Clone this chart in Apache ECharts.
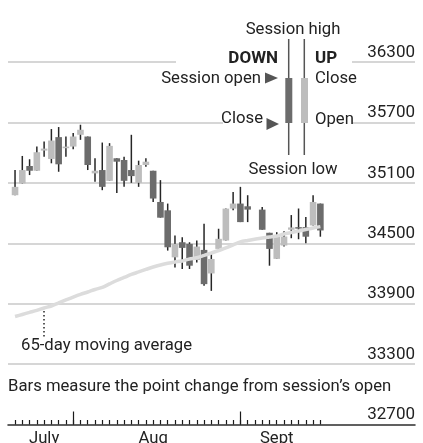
<!DOCTYPE html>
<html>
<head>
<meta charset="utf-8">
<style>
  html, body { margin: 0; padding: 0; background: #fff; }
  #chart { width: 423px; height: 443px; }
</style>
<script src="https://cdn.jsdelivr.net/npm/echarts@6.0.0/dist/echarts.min.js"></script>
</head>
<body>
<div id="chart"></div>
<script>
"use strict";

// trading days (9/4 holiday keeps an empty slot)
const dates = [
  '7/19', '7/20', '7/21', '7/24', '7/25', '7/26', '7/27', '7/28', '7/31',
  '8/1', '8/2', '8/3', '8/4', '8/7', '8/8', '8/9', '8/10', '8/11',
  '8/14', '8/15', '8/16', '8/17', '8/18', '8/21', '8/22', '8/23', '8/24', '8/25',
  '8/28', '8/29', '8/30', '8/31', '9/1', '9/4', '9/5', '9/6', '9/7', '9/8',
  '9/11', '9/12', '9/13', '9/14', '9/15'
];
const opens = [
  34977, 35094, 35267, 35220, 35420, 35337, 35554, 35444, 35460,
  35577, 35560, 35194, 35227, 35120, 35344, 35327, 35227, 35100,
  35277, 35220, 34910, 34827, 34360, 34510, 34494, 34334, 34434, 34200,
  34444, 34527, 34844, 34894, 34867, null, 34834, 34604, 34345, 34477,
  34634, 34660, 34660, 34677, 34894
];
const closes = [
  35060, 35227, 35220, 35404, 35440, 35520, 35284, 35460, 35560,
  35627, 35277, 35220, 35060, 35467, 35310, 35120, 35167, 35277,
  35310, 34944, 34754, 34460, 34494, 34454, 34277, 34467, 34094, 34344,
  34544, 34844, 34894, 34710, 34834, null, 34634, 34444, 34570, 34567,
  34657, 34645, 34565, 34910, 34627
];
const lows = [
  34977, 35094, 35177, 35220, 35360, 35294, 35210, 35360, 35434,
  35527, 35227, 35110, 35027, 35120, 35000, 35060, 35100, 35060,
  35260, 34910, 34754, 34427, 34260, 34244, 34244, 34310, 34077, 34027,
  34444, 34527, 34827, 34710, 34710, null, 34634, 34277, 34345, 34467,
  34550, 34540, 34500, 34677, 34565
];
const highs = [
  35227, 35367, 35334, 35460, 35510, 35634, 35654, 35560, 35594,
  35677, 35560, 35344, 35500, 35494, 35344, 35360, 35577, 35320,
  35344, 35220, 35127, 34894, 34577, 34560, 34510, 34527, 34694, 34394,
  34644, 34844, 35010, 35060, 34977, null, 34860, 34604, 34610, 34620,
  34780, 34845, 34760, 34977, 34894
];
// 65-day moving average
const ma65 = [
  33773, 33793, 33813, 33833, 33857, 33877, 33907, 33937, 33966,
  33993, 34016, 34041, 34061, 34096, 34130, 34160, 34190, 34215,
  34240, 34264, 34284, 34301, 34314, 34324, 34344, 34356, 34379, 34403,
  34428, 34453, 34483, 34513, 34527, null, 34552, 34562, 34572, 34592,
  34607, 34622, 34637, 34652, 34665
];
// axis
const yMin = 32700;
const yMax = 36300;
const yStep = 600;
const monthEnds = ['7/31', '8/31'];
const labelDates = ['7/25', '8/15', '9/7'];
const labelNames = ['July', 'Aug', 'Sept'];

const FONT = 'Roboto';
const TEXT = '#222';
const UP = '#bdbdbd';
const DOWN = '#6c6c6c';
const WICK = '#262626';

const candles = [];
dates.forEach((d, i) => {
  if (opens[i] == null) return;
  candles.push([i, opens[i], closes[i], lows[i], highs[i]]);
});

// one candle: wick + body
function renderCandle(params, api) {
  const i = api.value(0);
  const o = api.value(1), c = api.value(2), l = api.value(3), h = api.value(4);
  const top = api.coord([i, Math.max(o, c)]);
  const bot = api.coord([i, Math.min(o, c)]);
  const hi = api.coord([i, h]);
  const lo = api.coord([i, l]);
  const w = 6.6;
  return {
    type: 'group',
    children: [
      {
        type: 'line',
        shape: { x1: hi[0], y1: hi[1], x2: lo[0], y2: lo[1] },
        style: { stroke: WICK, lineWidth: 1.5 }
      },
      {
        type: 'rect',
        shape: { x: top[0] - w / 2, y: top[1], width: w, height: Math.max(bot[1] - top[1], 1.5) },
        style: { fill: c >= o ? UP : DOWN }
      }
    ]
  };
}

const txt = (text, x, y, align, extra) => ({
  type: 'text', z: 20, x: x, y: y,
  style: Object.assign({
    text: text, fill: TEXT, font: '16.7px ' + FONT,
    textAlign: align, textVerticalAlign: 'middle'
  }, extra || {})
});

const myChart = echarts.init(document.getElementById('chart'));
const option = {
  animation: false,
  grid: [
    // background grid: gridlines and value labels
    { left: 8, right: 8, top: 62, bottom: 18.5, outerBoundsMode: 'none' },
    // candle grid
    { left: 11.4, right: 99, top: 62, bottom: 18.5, outerBoundsMode: 'none' }
  ],
  xAxis: [
    {
      gridIndex: 0, type: 'value', min: 0, max: 1,
      axisLine: { show: true, lineStyle: { color: '#3a3a3a', width: 1.6 } },
      axisTick: { show: false }, axisLabel: { show: false }, splitLine: { show: false }
    },
    {
      gridIndex: 1, type: 'category', data: dates, position: 'bottom',
      axisLine: { show: false },
      axisTick: {
        show: true, inside: true, alignWithLabel: true, interval: 0, length: 4.5,
        lineStyle: { color: '#1a1a1a', width: 1.2 }
      },
      axisLabel: {
        interval: (index, value) => labelDates.indexOf(value) >= 0,
        formatter: (value) => labelNames[labelDates.indexOf(value)],
        color: TEXT, fontFamily: FONT, fontSize: 16.7, margin: 6
      },
      splitLine: { show: false }
    },
    {
      gridIndex: 1, type: 'category', data: dates, position: 'bottom',
      axisLine: { show: false },
      axisTick: {
        show: true, inside: true, alignWithLabel: true, length: 13,
        interval: (index, value) => monthEnds.indexOf(value) >= 0,
        lineStyle: { color: '#1a1a1a', width: 1.2 }
      },
      axisLabel: { show: false },
      splitLine: { show: false }
    }
  ],
  yAxis: [
    {
      gridIndex: 0, type: 'value', position: 'right',
      min: yMin, max: yMax, interval: yStep,
      axisLine: { show: false }, axisTick: { show: false },
      axisLabel: {
        inside: true, margin: 0, verticalAlign: 'bottom', padding: [0, 0, 1, 0],
        formatter: (v) => String(v),
        color: TEXT, fontFamily: FONT, fontSize: 17
      },
      splitLine: { lineStyle: { color: '#c8c8c8', width: 1.5 } }
    },
    { gridIndex: 1, type: 'value', min: yMin, max: yMax, show: false }
  ],
  series: [
    {
      type: 'custom',
      xAxisIndex: 1, yAxisIndex: 1,
      renderItem: renderCandle,
      encode: { x: 0, y: [1, 2, 3, 4] },
      data: candles,
      z: 3
    },
    {
      type: 'line',
      xAxisIndex: 1, yAxisIndex: 1,
      data: ma65,
      connectNulls: true,
      smooth: 0.3,
      symbol: 'none',
      lineStyle: { color: '#dcdcdc', width: 3.5 },
      z: 4
    }
  ],
  graphic: [
    // break gridlines behind the key
    { type: 'rect', z: 10, shape: { x: 176, y: 59, width: 176, height: 6 }, style: { fill: '#fff' } },
    { type: 'rect', z: 10, shape: { x: 223, y: 119, width: 129, height: 7 }, style: { fill: '#fff' } },
    // key candles
    { type: 'line', z: 11, shape: { x1: 288.7, y1: 39, x2: 288.7, y2: 155 }, style: { stroke: '#555', lineWidth: 1.5 } },
    { type: 'line', z: 11, shape: { x1: 304.3, y1: 39, x2: 304.3, y2: 155 }, style: { stroke: '#555', lineWidth: 1.5 } },
    { type: 'rect', z: 12, shape: { x: 285.3, y: 78, width: 7, height: 45 }, style: { fill: DOWN } },
    { type: 'rect', z: 12, shape: { x: 301, y: 78, width: 7, height: 45 }, style: { fill: UP } },
    { type: 'polygon', z: 12, shape: { points: [[265, 72.5], [278, 78], [265, 83.5]] }, style: { fill: '#555' } },
    { type: 'polygon', z: 12, shape: { points: [[266.5, 118], [279, 124], [266.5, 130]] }, style: { fill: '#555' } },
    txt('Session high', 293, 30, 'center'),
    txt('DOWN', 278, 59, 'right', { font: 'bold 17px ' + FONT }),
    txt('UP', 315, 59, 'left', { font: 'bold 17px ' + FONT }),
    txt('Session open', 261, 79, 'right'),
    txt('Close', 315, 79, 'left'),
    txt('Close', 263, 119, 'right'),
    txt('Open', 315, 120, 'left'),
    txt('Session low', 293, 170, 'center'),
    // moving average note
    { type: 'line', z: 11, shape: { x1: 44, y1: 311, x2: 44, y2: 338 }, style: { stroke: '#333', lineWidth: 1.6, lineDash: [1.6, 2.4] } },
    txt('65-day moving average', 21, 346, 'left'),
    txt('Bars measure the point change from session\u2019s open', 8, 387, 'left')
  ]
};
myChart.setOption(option);
</script>
</body>
</html>
